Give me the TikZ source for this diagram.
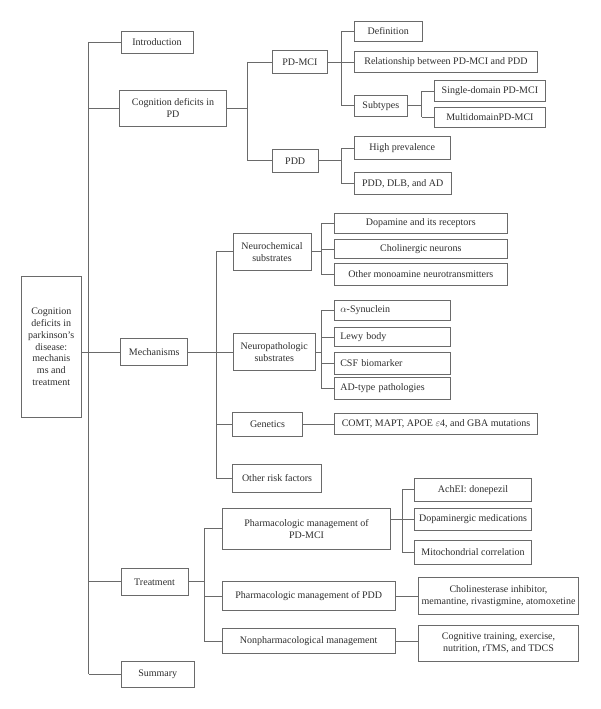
\documentclass[tikz,border=0pt]{standalone}
\usepackage{fontspec}
\setmainfont{Liberation Serif}
\definecolor{lineC}{HTML}{6A6A6A}
\definecolor{textC}{HTML}{2E2E2E}
\begin{document}
\begin{tikzpicture}[x=1pt,y=-1pt,
  box/.style={draw=lineC, line width=0.75pt, inner sep=0pt, align=center,
    font=\fontsize{10}{11.8}\selectfont, text=textC},
  lbox/.style={box, align=left, inner xsep=6pt},
  conn/.style={draw=lineC, line width=0.75pt}]
\fill[white] (0,0) rectangle (600,709);
\useasboundingbox (0,0) rectangle (600,709);

% ---- nodes ----
\node[box, minimum width=60pt, minimum height=141.7pt] (root) at (51.3,346.8)
  {Cognition\\deficits in\\parkinson’s\\disease:\\mechanis\\ms and\\treatment};
\node[box, minimum width=72pt, minimum height=22pt] (intro) at (157,42) {Introduction};
\node[box, minimum width=107.4pt, minimum height=36pt] (cogpd) at (173,108) {Cognition deficits in\\PD};
\node[box, minimum width=55.7pt, minimum height=22.6pt] (pdmci) at (299.9,62) {PD-MCI};
\node[box, minimum width=46.3pt, minimum height=23pt] (pdd) at (295.2,160.8) {PDD};
\node[box, minimum width=67.7pt, minimum height=20.7pt] (defn) at (388.2,31.3) {Definition};
\node[box, minimum width=183.4pt, minimum height=21.6pt] (relation) at (446,62) {Relationship between PD-MCI and PDD};
\node[box, minimum width=53pt, minimum height=20.7pt] (subtypes) at (380.8,105.7) {Subtypes};
\node[box, minimum width=111.7pt, minimum height=20.6pt] (single) at (489.9,91) {Single-domain PD-MCI};
\node[box, minimum width=111.7pt, minimum height=20pt] (multi) at (489.9,117.3) {MultidomainPD-MCI};
\node[box, minimum width=95.7pt, minimum height=22.6pt] (highprev) at (402.2,148) {High prevalence};
\node[box, minimum width=96.7pt, minimum height=22.4pt] (pdddlb) at (402.7,183.5) {PDD, DLB, and AD};

\node[box, minimum width=67pt, minimum height=27.4pt] (mech) at (154.2,352) {Mechanisms};
\node[box, minimum width=78pt, minimum height=36.7pt] (neurochem) at (272,251.7) {Neurochemical\\substrates};
\node[box, minimum width=173pt, minimum height=20pt] (dopamine) at (420.8,223.3) {Dopamine and its receptors};
\node[box, minimum width=173pt, minimum height=19.4pt] (cholin) at (420.8,249) {Cholinergic neurons};
\node[box, minimum width=173pt, minimum height=22pt] (othermono) at (420.8,274.3) {Other monoamine neurotransmitters};
\node[box, minimum width=82.7pt, minimum height=37.4pt] (neuropath) at (274.3,352) {Neuropathologic\\substrates};
\node[lbox, text width=104.4pt, minimum height=19.3pt] (syn) at (392.5,310.3) {$\alpha$-Synuclein};
\node[lbox, text width=104.4pt, minimum height=19.4pt] (lewy) at (392.5,337) {Lewy body};
\node[lbox, text width=104.4pt, minimum height=21.3pt] (csf) at (392.5,363.3) {CSF biomarker};
\node[lbox, text width=104.4pt, minimum height=22pt] (adtype) at (392.5,388.3) {AD-type pathologies};
\node[box, minimum width=69.6pt, minimum height=24pt] (genetics) at (267.5,424) {Genetics};
\node[box, minimum width=203.4pt, minimum height=20.6pt] (comt) at (436,424) {COMT, MAPT, APOE $\varepsilon$4, and GBA mutations};
\node[box, minimum width=88.6pt, minimum height=28pt] (otherrisk) at (277,478.3) {Other risk factors};

\node[box, minimum width=66.6pt, minimum height=27pt] (treat) at (154.6,581.8) {Treatment};
\node[box, minimum width=168.4pt, minimum height=40.7pt] (pharmmci) at (306.5,528.7) {Pharmacologic management of\\PD-MCI};
\node[box, minimum width=117.4pt, minimum height=23pt] (achei) at (473,489.8) {AchEI: donepezil};
\node[box, minimum width=117.4pt, minimum height=22pt] (dopamed) at (473,519.5) {Dopaminergic medications};
\node[box, minimum width=117.4pt, minimum height=24.3pt] (mito) at (473,552.2) {Mitochondrial correlation};
\node[box, minimum width=172.7pt, minimum height=29.7pt] (pharmpdd) at (308.7,596) {Pharmacologic management of PDD};
\node[box, minimum width=160.4pt, minimum height=37.3pt] (cholinest) at (498.5,596) {Cholinesterase inhibitor,\\memantine, rivastigmine, atomoxetine};
\node[box, minimum width=172.7pt, minimum height=25.4pt] (nonpharm) at (308.7,641) {Nonpharmacological management};
\node[box, minimum width=160.4pt, minimum height=35.7pt] (cogtrain) at (498.5,643.2) {Cognitive training, exercise,\\nutrition, rTMS, and TDCS};
\node[box, minimum width=72.7pt, minimum height=26.3pt] (summary) at (157.7,674.2) {Summary};

% ---- bus coordinates ----
\coordinate (t) at (88.7,0);
\coordinate (b1) at (247.3,0);
\coordinate (b2) at (341.7,0);
\coordinate (b3) at (421.7,0);
\coordinate (b4) at (216,0);
\coordinate (b5) at (321.3,0);
\coordinate (b6) at (204,0);
\coordinate (b7) at (402.3,0);

% ---- trunk ----
\draw[conn] (t |- intro) -- (t |- summary);
\draw[conn] (root.east |- mech) -- (t |- mech);
\foreach \n in {intro,cogpd,mech,treat,summary}
  \draw[conn] (t |- \n) -- (\n.west);

% ---- cognition deficits ----
\draw[conn] (cogpd.east) -- (b1 |- cogpd);
\draw[conn] (b1 |- pdmci) -- (b1 |- pdd);
\foreach \n in {pdmci,pdd} \draw[conn] (b1 |- \n) -- (\n.west);

\draw[conn] (pdmci.east) -- (relation.west);
\draw[conn] (b2 |- defn) -- (b2 |- subtypes);
\foreach \n in {defn,subtypes} \draw[conn] (b2 |- \n) -- (\n.west);

\draw[conn] (subtypes.east) -- (b3 |- subtypes);
\draw[conn] (b3 |- single) -- (b3 |- multi);
\foreach \n in {single,multi} \draw[conn] (b3 |- \n) -- (\n.west);

\draw[conn] (pdd.east) -- (b2 |- pdd);
\draw[conn] (b2 |- highprev) -- (b2 |- pdddlb);
\foreach \n in {highprev,pdddlb} \draw[conn] (b2 |- \n) -- (\n.west);

% ---- mechanisms ----
\draw[conn] (mech.east) -- (b4 |- mech);
\draw[conn] (b4 |- neurochem) -- (b4 |- otherrisk);
\foreach \n in {neurochem,neuropath,genetics,otherrisk} \draw[conn] (b4 |- \n) -- (\n.west);

\draw[conn] (neurochem.east) -- (b5 |- neurochem);
\draw[conn] (b5 |- dopamine) -- (b5 |- othermono);
\foreach \n in {dopamine,cholin,othermono} \draw[conn] (b5 |- \n) -- (\n.west);

\draw[conn] (neuropath.east) -- (b5 |- neuropath);
\draw[conn] (b5 |- syn) -- (b5 |- adtype);
\foreach \n in {syn,lewy,csf,adtype} \draw[conn] (b5 |- \n) -- (\n.west);

\draw[conn] (genetics.east) -- (comt.west);

% ---- treatment ----
\draw[conn] (treat.east) -- (b6 |- treat);
\draw[conn] (b6 |- pharmmci) -- (b6 |- nonpharm);
\foreach \n in {pharmmci,pharmpdd,nonpharm} \draw[conn] (b6 |- \n) -- (\n.west);

\draw[conn] (pharmmci.east |- dopamed) -- (dopamed.west);
\draw[conn] (b7 |- achei) -- (b7 |- mito);
\foreach \n in {achei,mito} \draw[conn] (b7 |- \n) -- (\n.west);

\draw[conn] (pharmpdd.east) -- (cholinest.west);
\draw[conn] (nonpharm.east) -- (nonpharm.east -| cogtrain.west);
\end{tikzpicture}
\end{document}
